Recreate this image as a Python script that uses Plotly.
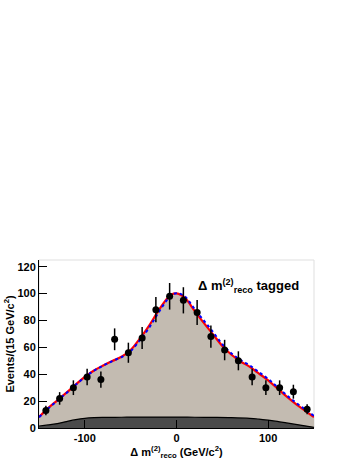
import plotly.graph_objs as go

# measured points (15 GeV bins, centres)
bin_centers = [-142.5, -127.5, -112.5, -97.5, -82.5, -67.5, -52.5, -37.5, -22.5, -7.5,
               7.5, 22.5, 37.5, 52.5, 67.5, 82.5, 97.5, 112.5, 127.5, 142.5]
events = [13, 22, 30, 38, 36, 66, 56, 67, 88, 98,
          95, 86, 68, 58, 50, 38, 30, 30, 27, 14]
errors = [n ** 0.5 for n in events]

# fit curves
curve_x = [-150, -140, -130, -120, -110, -100, -90, -80, -70, -60, -50, -40, -30, -20, -10,
           -5, 0, 5, 10, 20, 30, 40, 50, 60, 70, 80, 90, 100, 110, 120, 130, 140, 150]
fit_red = [8.2, 14.8, 20.5, 26.3, 32.3, 38.0, 42.8, 46.5, 49.8, 53, 58, 66.5, 76, 87, 96.5,
           99.6, 100.2, 99, 96.3, 87, 78, 69.5, 61, 54.5, 49.5, 45.5, 40.5, 35.5, 29.5, 23.5, 18, 13, 8.2]
fit_blue = [8.0, 14.5, 20.3, 26.1, 32.1, 37.8, 42.6, 46.4, 49.8, 52.8, 57.3, 65.3, 74.5, 85.5, 95.6,
            99.2, 100.3, 99.6, 97.3, 88.3, 79.8, 71.3, 62.3, 55.5, 50.5, 46.5, 41.5, 36.5, 30.5, 24.5, 19, 14, 9.0]
bkg_x = [-150, -140, -130, -120, -110, -100, -90, -80, -60, -40, -20, 0, 20, 40, 60, 80, 90,
         100, 110, 120, 130, 140, 150]
bkg = [1.5, 2.3, 3.3, 4.8, 6.2, 7.2, 7.7, 7.9, 8.0, 8.1, 8.1, 8.1, 8.0, 7.9, 7.7, 7.2, 6.6,
       5.8, 4.9, 3.8, 2.7, 1.6, 0.5]

font = dict(family="Liberation Sans, Arial, sans-serif", size=11, color="black", weight="bold")

fig = go.Figure()
fig.add_trace(go.Scatter(x=curve_x, y=fit_red, mode='lines', line=dict(width=0, shape='spline'),
                         fill='tozeroy', fillcolor='#c3bbb1', hoverinfo='skip'))
fig.add_trace(go.Scatter(x=bkg_x, y=bkg, mode='lines', line=dict(color='black', width=1.2, shape='spline'),
                         fill='tozeroy', fillcolor='#4b4b4b', hoverinfo='skip'))
fig.add_trace(go.Scatter(x=curve_x, y=fit_red, mode='lines',
                         line=dict(color='#ff0000', width=2.2, shape='spline')))
fig.add_trace(go.Scatter(x=curve_x, y=fit_blue, mode='lines',
                         line=dict(color='#0000ff', width=2, dash='dot', shape='spline')))
fig.add_trace(go.Scatter(
    x=bin_centers, y=events, mode='markers',
    marker=dict(color='black', size=7),
    error_y=dict(type='data', array=errors, color='black', thickness=1.5, width=0)
))

fig.add_shape(type='rect', xref='paper', yref='paper', x0=0, x1=1, y0=0, y1=1,
              line=dict(color='#999999', width=1), fillcolor='rgba(0,0,0,0)', layer='below')

fig.add_annotation(text="Δ m<sup>(2)</sup><sub>reco</sub> tagged", xref='x', yref='y',
                   x=78, y=106, showarrow=False, xanchor='center',
                   font=dict(family=font['family'], size=13, color='black', weight='bold'))

fig.update_layout(
    width=357,
    height=462,
    template='simple_white',
    showlegend=False,
    margin=dict(l=39, r=43, t=260, b=34, autoexpand=False),
    paper_bgcolor='white',
    plot_bgcolor='white',
    font=font,
    xaxis=dict(
        range=[-150, 150], tickvals=[-100, 0, 100], ticktext=['-100', '0', '100'],
        ticks='inside', ticklen=8, tickcolor='black', showline=True, linecolor='black',
        linewidth=1, tickfont=font, zeroline=False, automargin=False,
        title=dict(text="Δ m<sup>(2)</sup><sub>reco</sub> (GeV/c<sup>2</sup>)", font=font, standoff=0),
    ),
    yaxis=dict(
        range=[0, 125], tickvals=[0, 20, 40, 60, 80, 100, 120],
        ticks='inside', ticklen=8, tickcolor='black', showline=True, linecolor='black',
        linewidth=1, tickfont=font, zeroline=False, automargin=False,
        title=dict(text="Events/(15 GeV/c<sup>2</sup>)", font=font, standoff=0),
    ),
)

fig.write_html("out.html", config={'displayModeBar': False},
               post_script="document.body.style.margin='0';")
